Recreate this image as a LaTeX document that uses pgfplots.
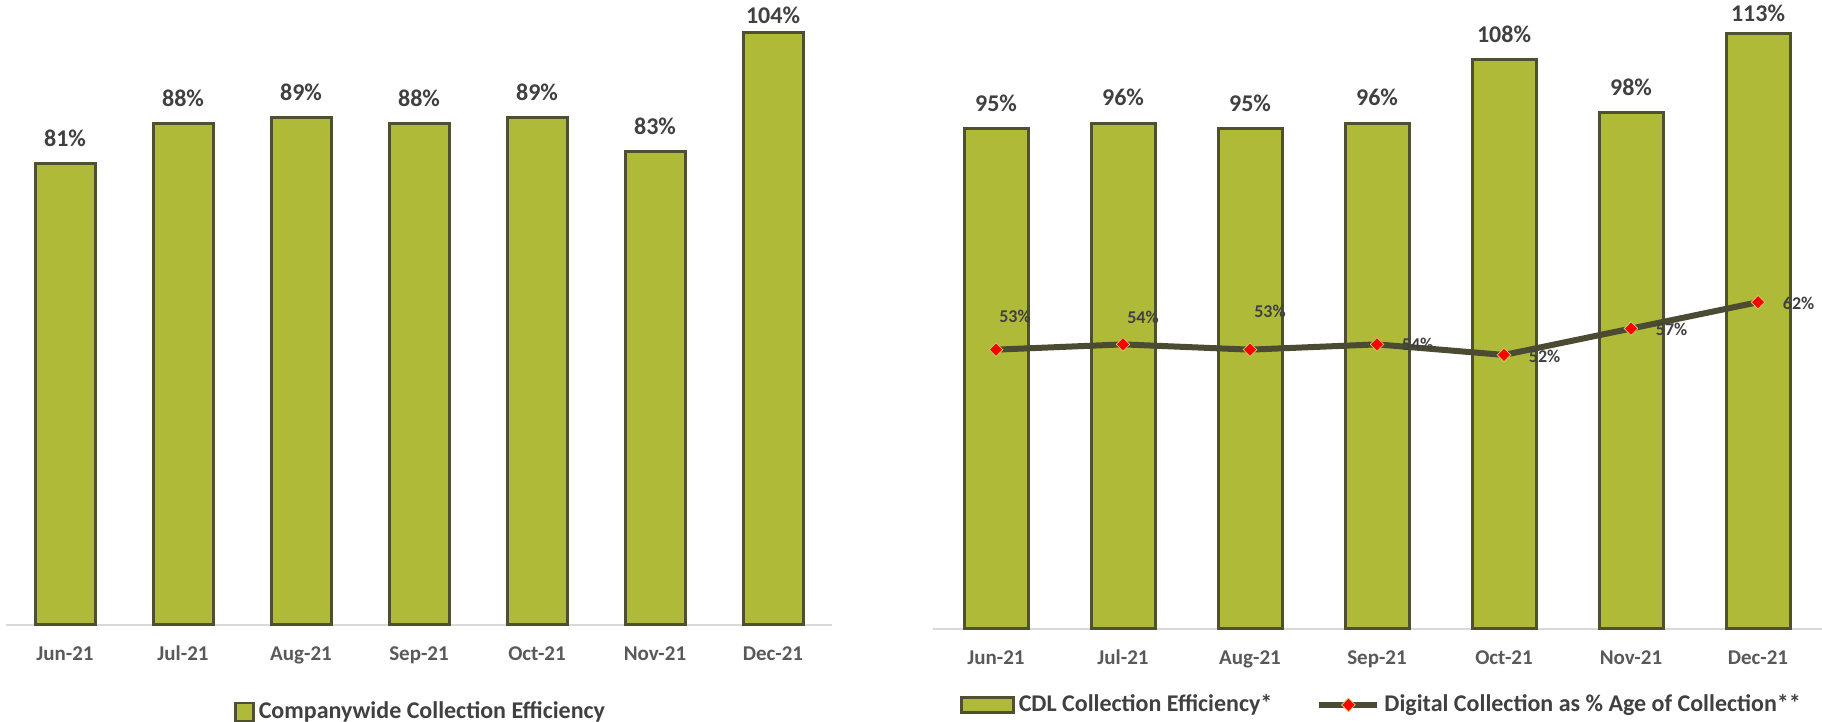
\documentclass[border=0pt]{standalone}
\usepackage{pgfplots}
\pgfplotsset{compat=1.18}
\usepackage{pgfplotstable}
\usepackage{fontspec}
\setmainfont{Carlito}
\definecolor{barC}{RGB}{175,187,56}
\definecolor{edgeC}{RGB}{78,80,48}
\definecolor{lineC}{RGB}{74,75,50}
\definecolor{txtC}{RGB}{64,64,64}
\definecolor{tickC}{RGB}{89,89,89}
\definecolor{baseC}{RGB}{217,217,217}
\definecolor{markE}{RGB}{205,205,100}

\pgfplotstableread{
x y sh
0 81 8.6
1 88 8.6
2 89 8.6
3 88 8.6
4 89 8.6
5 83 8.6
6 104 4.3
}\leftdata

\pgfplotstableread{
x y sh
0 95 8.6
1 96 8.6
2 95 8.6
3 96 8.6
4 108 8.6
5 98 8.6
6 113 6.1
}\rightbars

\pgfplotstableread{
x y dx dy
0 53 9.5 16.5
1 54 10 13.5
2 53 10 19
3 54 20.3 0
4 52 20.3 -0.5
5 57 20.3 -0.5
6 62 20.3 -0.5
}\rightline

\pgfplotsset{mystyle/.style={
  scale only axis, clip=false,
  xmin=-0.5, xmax=6.5, ymin=0,
  hide y axis, axis x line*=bottom,
  x axis line style={draw=baseC, line width=1pt, -},
  xtick={0,...,6},
  xticklabels={Jun-21,Jul-21,Aug-21,Sep-21,Oct-21,Nov-21,Dec-21},
  xtick style={draw=none}, major tick length=0pt,
  xticklabel style={font=\fontsize{10.5}{12}\selectfont\bfseries, text=tickC, anchor=base, yshift=-17.9pt},
  ytick=\empty,
  legend style={draw=none, fill=none, inner sep=0pt,
    font=\fontsize{12}{14}\selectfont\bfseries, text=txtC},
}}

\begin{document}
\begin{tikzpicture}
\path[use as bounding box] (0pt,0pt) rectangle (911pt,361pt);

\begin{axis}[mystyle, at={(3pt,48.5pt)}, anchor=south west,
  width=413pt, height=310.65pt, ymax=109,
  legend style={at={(0.276,-0.14)}, anchor=west}]
\addplot[ybar, bar width=30pt, fill=barC, draw=edgeC, line width=1.5pt,
  nodes near coords={\pgfplotspointmeta\%}, point meta=explicit symbolic,
  visualization depends on={\thisrow{sh}\as\myshift},
  every node near coord/.append style={anchor=base, yshift=\myshift pt,
    font=\fontsize{12}{14}\selectfont\bfseries, text=txtC},
  legend image code/.code={\draw[fill=barC,draw=edgeC,line width=1.2pt] (0pt,-4.5pt) rectangle (9pt,4.5pt);}
  ] table[x=x,y=y,meta=y] {\leftdata};
\legend{Companywide Collection Efficiency}
\end{axis}

\begin{axis}[mystyle, at={(466.25pt,46.5pt)}, anchor=south west,
  width=444.5pt, height=313.6pt, ymax=119,
  legend columns=2,
  legend style={at={(0.0309,-0.121)}, anchor=west,
    /tikz/every even column/.append style={column sep=20pt}}]
\addplot[ybar, bar width=32pt, fill=barC, draw=edgeC, line width=1.5pt,
  nodes near coords={\pgfplotspointmeta\%}, point meta=explicit symbolic,
  visualization depends on={\thisrow{sh}\as\myshift},
  every node near coord/.append style={anchor=base, yshift=\myshift pt,
    font=\fontsize{12}{14}\selectfont\bfseries, text=txtC},
  legend image code/.code={\draw[fill=barC,draw=edgeC,line width=1.2pt] (0pt,-3.75pt) rectangle (26pt,3.75pt);}
  ] table[x=x,y=y,meta=y] {\rightbars};
\addplot[color=lineC, line width=3pt, mark=square*, mark size=2.4pt,
  mark options={fill=red, draw=markE, line width=0.4pt, rotate=45},
  nodes near coords={\pgfplotspointmeta\%}, point meta=explicit symbolic,
  visualization depends on={\thisrow{dx}\as\mydx},
  visualization depends on={\thisrow{dy}\as\mydy},
  every node near coord/.append style={anchor=center, xshift=\mydx pt, yshift=\mydy pt,
    font=\fontsize{9}{11}\selectfont\bfseries, text=txtC},
  legend image code/.code={\draw[lineC,line width=3pt] (0pt,0pt)--(29pt,0pt);
    \draw[mark=square*, mark size=2.4pt, mark options={fill=red,draw=markE,line width=0.4pt,rotate=45}] plot coordinates {(14.5pt,0pt)};}
  ] table[x=x,y=y,meta=y] {\rightline};
\legend{CDL Collection Efficiency*, Digital Collection as \% Age of Collection**}
\end{axis}
\end{tikzpicture}
\end{document}
